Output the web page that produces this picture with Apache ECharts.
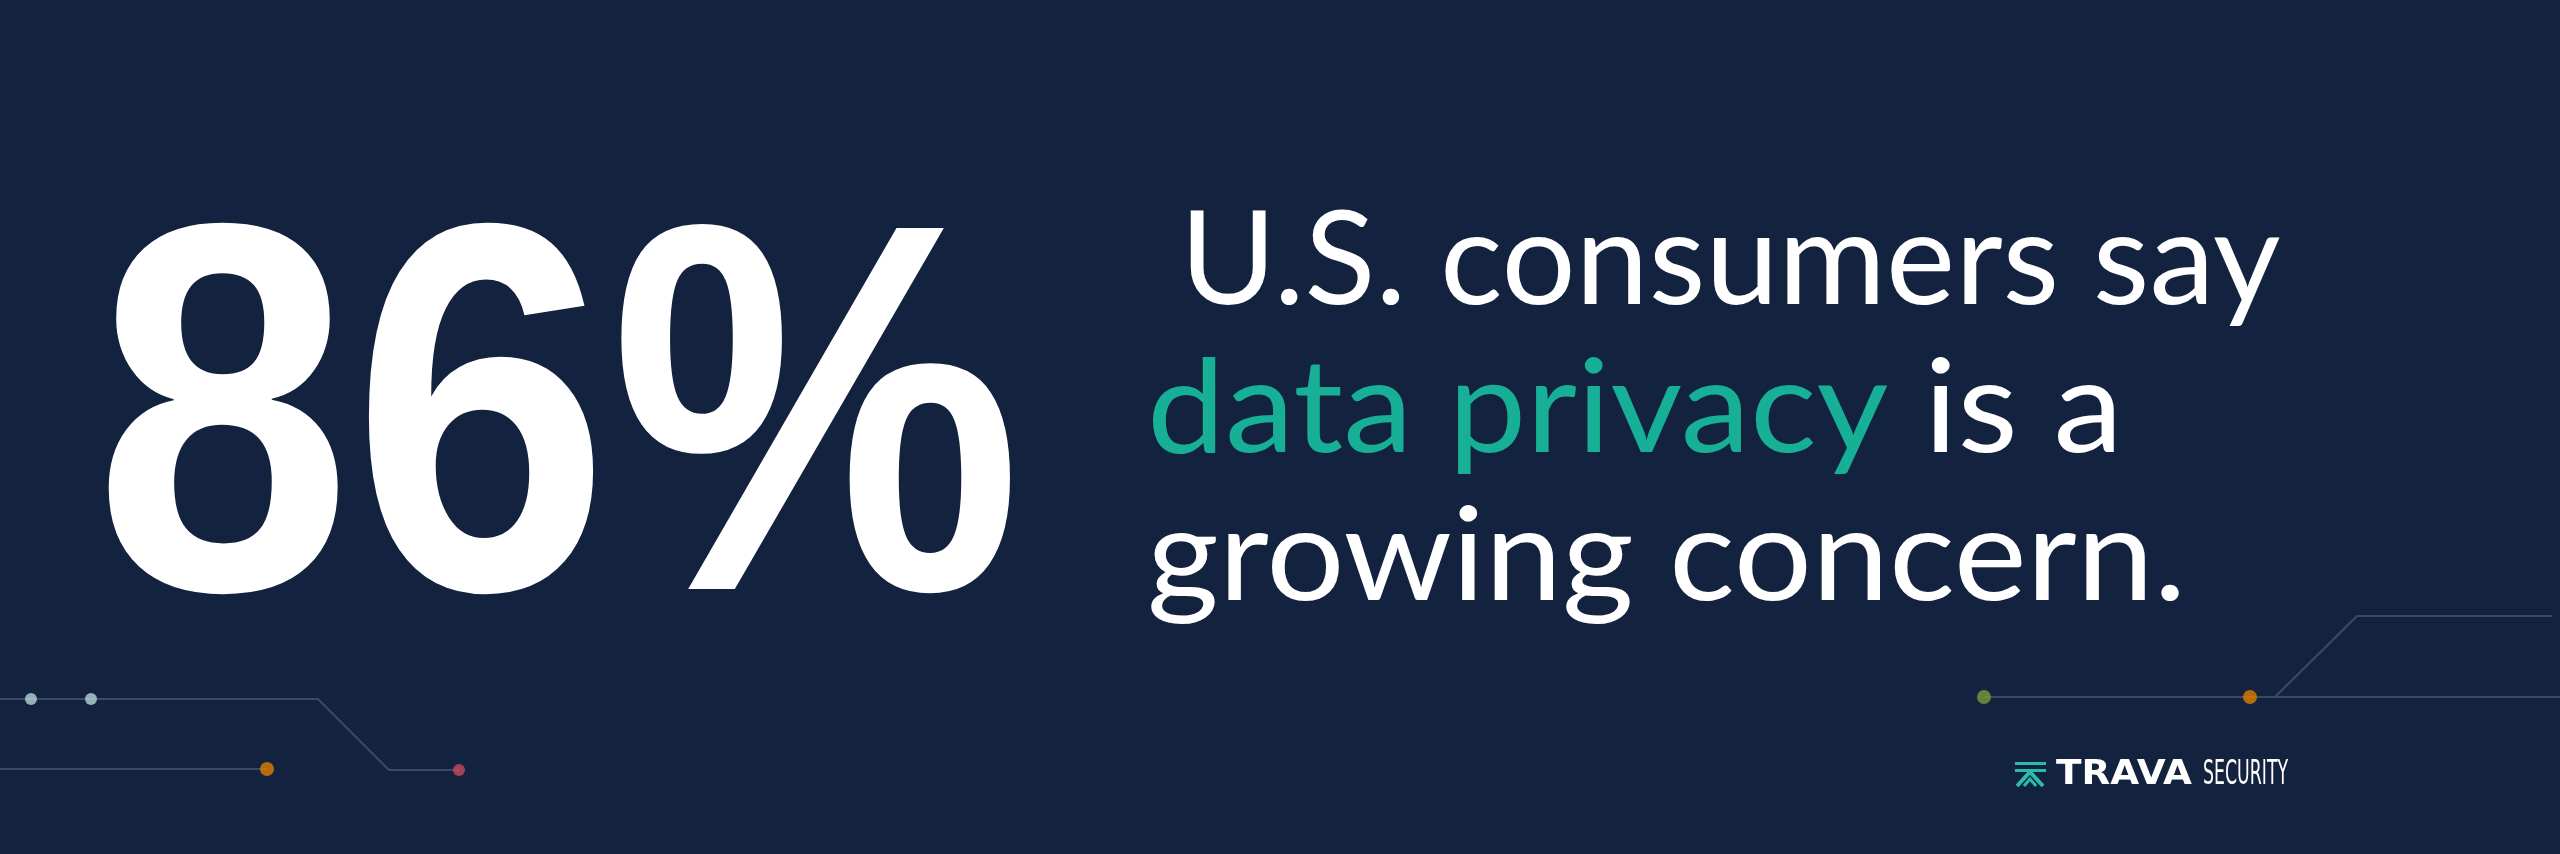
<!DOCTYPE html>
<html><head><meta charset="utf-8">
<script src="https://cdn.jsdelivr.net/npm/echarts@6/dist/echarts.min.js"></script>
<style>html,body{margin:0;padding:0;background:#13223f}#c{width:2560px;height:854px}</style>
</head><body><div id="c"></div>
<script>
const statValue = 86;
const line1 = "U.S. consumers say";
const highlight = "data privacy";
const line2rest = " is a";
const line3 = "growing concern.";
const brand = ["TRAVA", "SECURITY"];
// decorative circuit traces [x, y] in canvas pixels
const traceLeftTop = [[0,699],[318,699],[389,770],[459,770]];
const traceLeftBottom = [[0,769],[267,769]];
const traceRightLow = [[1984,697],[2560,697]];
const traceRightHigh = [[2275,697],[2357,616],[2552,616]];
const dotsPale = [[31,699],[91,699]];
const dotsOrange = [[267,769],[2250,697]];
const dotsRed = [[459,770]];
const dotsGreen = [[1984,697]];

const chart = echarts.init(document.getElementById('c'));
const lineS = d => ({type:'line',data:d,symbol:'none',lineStyle:{color:'#3d4a66',width:2},silent:true,z:1});
const dotS = (d,c,s) => ({type:'scatter',data:d,symbolSize:s,itemStyle:{color:c},silent:true,z:2});
const F = '129px Lato';
chart.setOption({
  backgroundColor:'#13223f',
  animation:false,
  grid:{left:0,right:0,top:0,bottom:0},
  xAxis:{type:'value',min:0,max:2560,show:false},
  yAxis:{type:'value',min:0,max:854,inverse:true,show:false},
  series:[lineS(traceLeftTop),lineS(traceLeftBottom),lineS(traceRightLow),lineS(traceRightHigh),
    dotS(dotsPale,'#b5d3d6',12),dotS(dotsOrange,'#e07f00',14),dotS(dotsRed,'#c84a5e',12),dotS(dotsGreen,'#7a9a3a',14)],
  graphic:[
    {type:'text',left:94,top:182,scaleX:0.875,scaleY:0.99,style:{text:statValue+'%',fill:'#fff',font:'bold 530px "Liberation Sans"'}},
    {type:'text',left:1180,top:198,scaleX:1.015,style:{text:line1,fill:'#fff',font:F}},
    {type:'text',left:1147,top:346,scaleX:1.08,style:{rich:{g:{fill:'#17b097',font:F},w:{fill:'#fff',font:F}},text:'{g|'+highlight+'}{w|'+line2rest+'}'}},
    {type:'text',left:1147,top:494,scaleX:1.07,style:{text:line3,fill:'#fff',font:F}},
    {type:'polygon',shape:{points:[[2015,762],[2046,762],[2046,765],[2015,765]]},style:{fill:'#2bbbad'}},
    {type:'polygon',shape:{points:[[2015,769],[2046,769],[2046,772],[2015,772]]},style:{fill:'#2bbbad'}},
    {type:'polyline',shape:{points:[[2017,786],[2030,772],[2043,786]]},style:{stroke:'#2bbbad',lineWidth:4,fill:null}},
    {type:'polyline',shape:{points:[[2024,786],[2030,779],[2036,786]]},style:{stroke:'#2bbbad',lineWidth:3,fill:null}},
    {type:'text',left:2056,top:758,scaleX:1.1,style:{text:brand[0],fill:'#fff',font:'bold 34px "DejaVu Sans"'}},
    {type:'text',left:2203,top:758,scaleX:0.51,style:{text:brand[1],fill:'#fff',font:'34px "DejaVu Sans"'}}
  ]
});
</script></body></html>
